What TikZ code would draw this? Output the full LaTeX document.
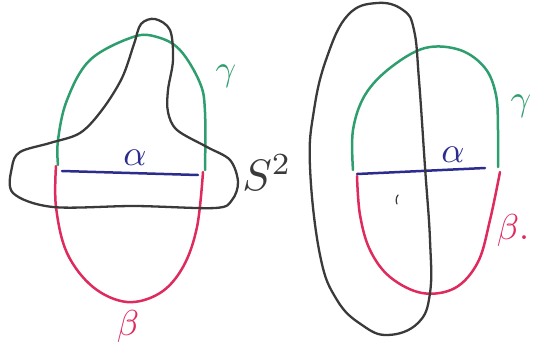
\documentclass[tikz,border=0pt]{standalone}
\usepackage{xcolor}
\usepackage{tikz}
\usetikzlibrary{positioning}
\definecolor{inkblack}{HTML}{3A3A3A}
\definecolor{inkgreen}{HTML}{2E9E6E}
\definecolor{inkred}{HTML}{DF2A5E}
\definecolor{inkblue}{HTML}{2C2C8E}

\begin{document}
\begin{tikzpicture}[x=1pt, y=-1pt, line cap=round, line join=round,
    sphere/.style={draw=inkblack, line width=2.3pt},
    gammaarc/.style={draw=inkgreen, line width=2.5pt},
    betaarc/.style={draw=inkred, line width=2.5pt},
    alphaline/.style={draw=inkblue, line width=2.5pt},
    hand/.style={inner sep=0pt, scale=3.6, transform shape}]
  \useasboundingbox (0,0) rectangle (539,354);

  % left picture
  \draw[gammaarc] plot[smooth, tension=0.6] coordinates
    {(58,165) (58,140) (67,100) (90,60) (133,37) (157,37) (180,50) (200,83) (205,112) (205,170)};
  \draw[betaarc] plot[smooth, tension=0.6] coordinates
    {(56,166) (56,207) (67,253) (93,287) (127,302) (160,293) (183,267) (197,227) (203,172)};
  \draw[alphaline] (62,171) -- (198,175);
  \draw[sphere] plot[smooth cycle, tension=0.55] coordinates
    {(155,19) (170,30) (173,60) (168,90) (168,112) (177,130) (207,147) (230,160)
     (238,182) (232,200) (215,208) (135,206) (53,207) (13,193) (12,167) (20,152)
     (50,143) (80,133) (102,110) (122,78) (134,44) (141,24)};
  \node[hand, text=inkblue] (alphaL) at (135,158) {$\alpha$};
  \node[hand, text=inkgreen] (gammaL) at (226,76) {$\gamma$};
  \node[hand, text=inkred] (betaL) at (128,326) {$\beta$};

  \node[inner sep=0pt, text=inkblack, scale=4.4, transform shape] (sphname) at (267,173) {$S^2$};

  % right picture
  \draw[gammaarc] plot[smooth, tension=0.6] coordinates
    {(353,170) (353,130) (365,95) (390,68) (425,48) (460,50) (485,68) (496,95) (498,130) (498,167)};
  \draw[betaarc] plot[smooth, tension=0.6] coordinates
    {(357,176) (360,215) (370,250) (390,277) (422,293) (455,288) (478,262) (490,220) (500,172)};
  \draw[alphaline] (357,174) -- (485,168);
  \draw[sphere] plot[smooth cycle, tension=0.7] coordinates
    {(377,3) (403,10) (414,30) (419,80) (425,167) (430,240) (430,293) (418,323)
     (388,335) (362,325) (337,300) (320,255) (310,167) (314,110) (327,57) (348,15)};
  \draw[inkblack, line width=1.2pt] (398,195) to[bend right=30] (397,204);
  \node[hand, text=inkblue] (alphaR) at (453,155) {$\alpha$};
  \node[hand, text=inkgreen] (gammaR) at (521,106) {$\gamma$};
  \node[hand, text=inkred] (betaR) at (513,230) {$\beta.$};
\end{tikzpicture}
\end{document}
